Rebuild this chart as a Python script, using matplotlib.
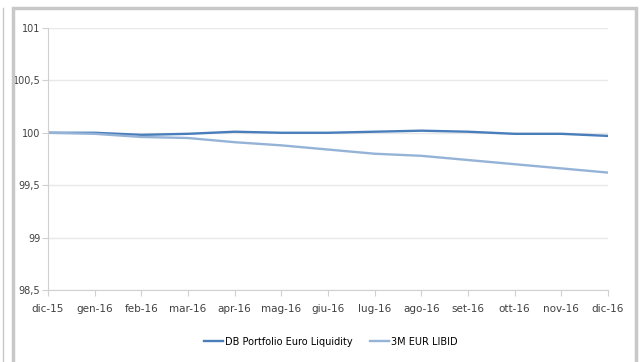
import numpy as np
import matplotlib.pyplot as plt
from matplotlib.patches import Rectangle
from matplotlib.lines import Line2D

# Data
months = ['dic-15', 'gen-16', 'feb-16', 'mar-16', 'apr-16', 'mag-16', 'giu-16',
          'lug-16', 'ago-16', 'set-16', 'ott-16', 'nov-16', 'dic-16']
db_portfolio = [100.0, 100.0, 99.98, 99.99, 100.01, 100.0, 100.0,
                100.01, 100.02, 100.01, 99.99, 99.99, 99.97]
eur_libid = [100.0, 99.99, 99.96, 99.95, 99.91, 99.88, 99.84,
             99.80, 99.78, 99.74, 99.70, 99.66, 99.62]
yticks = [98.5, 99, 99.5, 100, 100.5, 101]
ytick_labels = ['98,5', '99', '99,5', '100', '100,5', '101']

plt.rcParams['font.family'] = ['Liberation Sans Narrow', 'DejaVu Sans']

fig = plt.figure(figsize=(6.4, 3.62), dpi=100)
ax = fig.add_axes([0.075, 0.199, 0.875, 0.7237])

x = np.arange(len(months))
ax.plot(x, db_portfolio, color='#4A7EBB', lw=1.7, label='DB Portfolio Euro Liquidity')
ax.plot(x, eur_libid, color='#95B3D7', lw=1.7, label='3M EUR LIBID')

ax.set_xlim(0, len(months) - 1)
ax.set_ylim(98.5, 101)
ax.set_yticks(yticks)
ax.set_yticklabels(ytick_labels)
ax.set_xticks(x)
ax.set_xticklabels(months)
ax.tick_params(axis='both', colors='#404040', length=4, width=0.8)
ax.tick_params(axis='x', labelsize=7.5, pad=6, color='#D0D0D0')
ax.tick_params(axis='y', labelsize=7, pad=1.5, color='#D0D0D0')
ax.grid(axis='y', color='#E8E8E8', lw=1)
ax.set_axisbelow(True)
for s in ['top', 'right']:
    ax.spines[s].set_visible(False)
ax.spines['left'].set_color('#D0D0D0')
ax.spines['bottom'].set_color('#D0D0D0')

ax.legend(loc='upper center', bbox_to_anchor=(0.505, -0.145), ncol=2, frameon=False,
          fontsize=7, handlelength=2.0, columnspacing=1.8, handletextpad=0.15)

# outer chart frame
fig.patches.append(Rectangle((13 / 640, -0.05), 623 / 640, 1 - 8 / 362 + 0.05,
                             transform=fig.transFigure, fill=False,
                             edgecolor='#C8C8C8', lw=2.5))
fig.lines.append(Line2D([3 / 640, 3 / 640], [0, 1 - 8 / 362], transform=fig.transFigure,
                        color='#C8C8C8', lw=1))

fig.savefig('out.png', dpi=100)
